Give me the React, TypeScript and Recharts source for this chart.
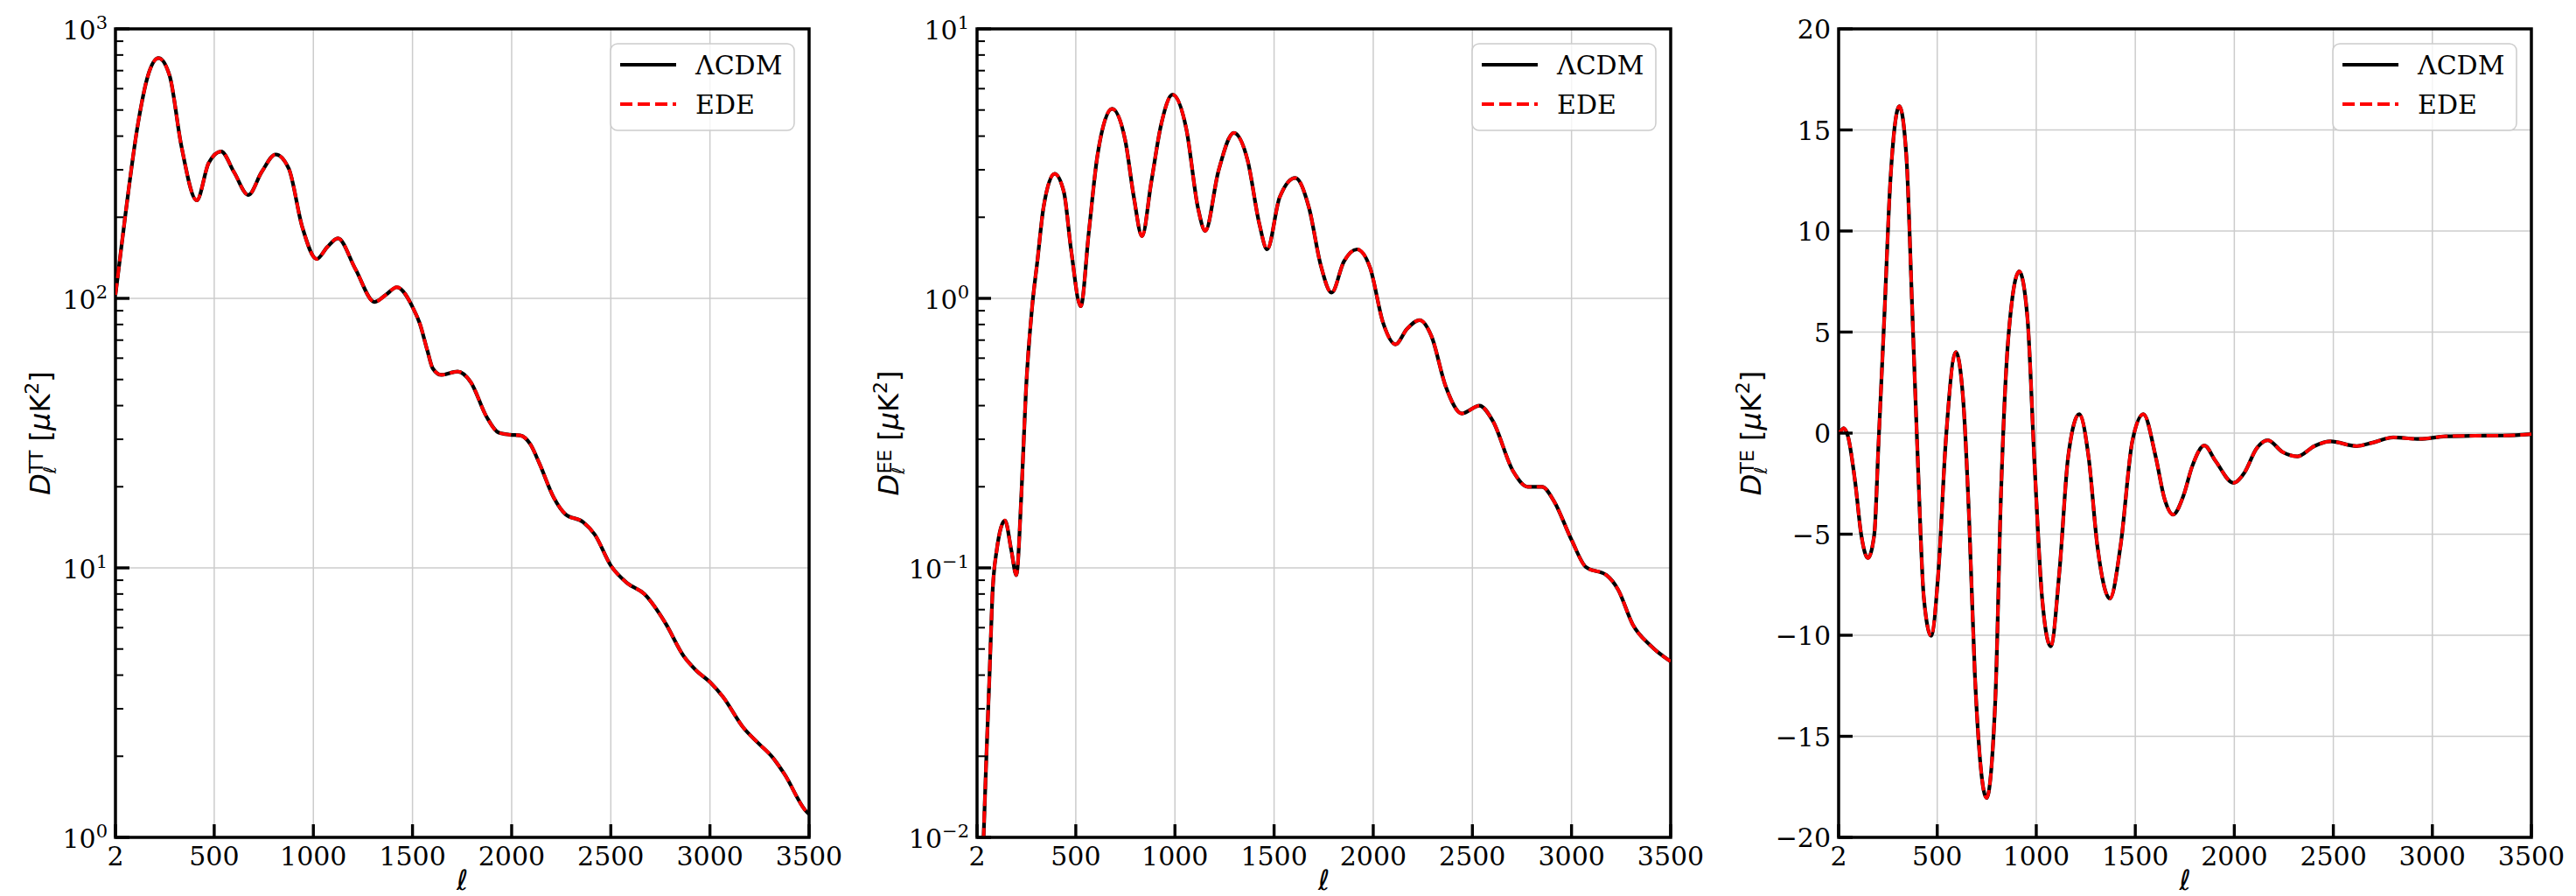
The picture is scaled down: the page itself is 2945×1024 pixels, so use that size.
import React from "react";
import { LineChart, Line, XAxis, YAxis, CartesianGrid, ReferenceArea } from "recharts";

// multipoles shared by all three panels
const ellTicks = [2, 500, 1000, 1500, 2000, 2500, 3000, 3500];
const ellGrid = [500, 1000, 1500, 2000, 2500, 3000];

// TT spectrum
const ttEll = [2, 28, 48, 117, 166, 219, 275, 334, 412, 472, 535, 600, 672, 740, 810, 876, 944, 1017, 1070, 1124, 1211, 1309, 1365, 1421, 1506, 1536, 1575, 1602, 1646, 1727, 1793, 1874, 1933, 1992, 2043, 2095, 2139, 2213, 2272, 2360, 2419, 2500, 2581, 2669, 2772, 2868, 2934, 3000, 3066, 3169, 3243, 3316, 3375, 3485, 3500];
const ttLcdm = [103, 147, 193, 451, 671, 779, 671, 369, 231, 318, 351, 294, 242, 295, 342, 303, 184, 140, 155, 167, 129, 97, 103, 110, 91, 81, 64, 55, 52, 53.5, 49, 36.3, 31.8, 31.2, 31.0, 28.7, 24.5, 18.2, 15.8, 14.8, 13.3, 10.2, 8.8, 8.0, 6.3, 4.7, 4.14, 3.77, 3.32, 2.55, 2.24, 1.98, 1.72, 1.25, 1.22];
// EDE lies on top of LCDM at this resolution
const ttEde = [...ttLcdm];
const ttDecades = [1, 10, 100, 1000];

// EE spectrum
const eeEll = [2, 20, 35, 50, 65, 79, 101, 143, 175, 200, 226, 249, 278, 307, 337, 393, 440, 476, 525, 565, 609, 683, 749, 793, 834, 881, 930, 988, 1058, 1116, 1153, 1219, 1297, 1367, 1425, 1465, 1528, 1607, 1676, 1735, 1790, 1852, 1918, 1984, 2050, 2112, 2170, 2234, 2293, 2366, 2447, 2536, 2602, 2706, 2779, 2852, 2911, 3000, 3073, 3176, 3235, 3308, 3397, 3492, 3500];
const eeLcdm = [0.0015, 0.004, 0.0100, 0.0207, 0.0402, 0.078, 0.116, 0.150, 0.116, 0.094, 0.190, 0.46, 0.90, 1.39, 2.17, 2.90, 2.48, 1.52, 0.935, 1.74, 3.38, 5.05, 3.87, 2.37, 1.70, 2.71, 4.4, 5.70, 4.23, 2.17, 1.78, 2.96, 4.11, 3.24, 1.90, 1.52, 2.37, 2.80, 2.17, 1.33, 1.05, 1.37, 1.52, 1.30, 0.81, 0.675, 0.77, 0.83, 0.726, 0.47, 0.374, 0.40, 0.352, 0.228, 0.200, 0.200, 0.177, 0.127, 0.1006, 0.094, 0.083, 0.0618, 0.0516, 0.0454, 0.0450];
const eeEde = [...eeLcdm];
const eeDecades = [0.01, 0.1, 1, 10];

// TE spectrum
const teEll = [2, 13, 27, 49, 86, 116, 150, 182, 204, 234, 263, 309, 344, 374, 403, 432, 469, 506, 543, 594, 631, 661, 690, 749, 793, 822, 859, 914, 955, 992, 1029, 1073, 1117, 1161, 1217, 1264, 1308, 1372, 1426, 1485, 1541, 1603, 1647, 1691, 1743, 1787, 1849, 1904, 1996, 2052, 2111, 2169, 2243, 2319, 2405, 2486, 2618, 2699, 2803, 2935, 3067, 3215, 3362, 3487, 3500];
const teLcdm = [0.0, 0.1, 0.24, -0.15, -2.46, -5.02, -6.18, -5.02, -0.40, 6.02, 12.44, 16.17, 13.72, 6.02, -1.68, -8.11, -10.03, -6.83, -0.40, 4.01, 1.65, -4.26, -11.96, -18.05, -13.24, -2.97, 4.73, 8.00, 5.76, -1.68, -8.11, -10.55, -6.83, -1.17, 0.94, -1.17, -5.54, -8.19, -5.54, -0.40, 0.94, -1.17, -3.23, -4.03, -3.10, -1.65, -0.61, -1.36, -2.46, -1.94, -0.78, -0.35, -0.93, -1.15, -0.64, -0.41, -0.64, -0.47, -0.21, -0.29, -0.16, -0.13, -0.12, -0.06, -0.05];
const teEde = [...teLcdm];
const teTicks = [-20, -15, -10, -5, 0, 5, 10, 15, 20];

const minorMult = [2, 3, 4, 5, 6, 7, 8, 9];

const SERIF = '"DejaVu Serif", serif';
const SANS = '"DejaVu Sans", sans-serif';
const FIG_H = 1024;
const AXIS_W = 40; // space reserved by each axis; the labels spill into the margin

const logTicks = (decades: number[]) =>
    decades.flatMap((d, i) => (i === decades.length - 1 ? [d] : [d, ...minorMult.map((m) => m * d)]));

const XTick = (props: any) => {
    const { x, y, payload } = props;
    return (
        <g>
            <line x1={x} x2={x} y1={y} y2={y - 15} stroke="#000" strokeWidth={3.4} />
            <text x={x} y={y + 32} textAnchor="middle" fontFamily={SERIF} fontSize={30} fill="#000">
                {payload.value}
            </text>
        </g>
    );
};

const makeLogTick = (decades: number[]) => (props: any) => {
    const { x, y, payload } = props;
    const v = payload.value;
    const major = decades.includes(v);
    const exp = Math.round(Math.log10(v));
    return (
        <g>
            <line x1={x} x2={x + (major ? 16 : 9)} y1={y} y2={y} stroke="#000" strokeWidth={major ? 3.4 : 2} />
            {major && (
                <text x={x - 9} y={y + 12} textAnchor="end" fontFamily={SERIF} fontSize={30} fill="#000">
                    10
                    <tspan dy={-12} fontSize={21}>
                        {exp < 0 ? `\u2212${-exp}` : String(exp)}
                    </tspan>
                </text>
            )}
        </g>
    );
};

const LinTick = (props: any) => {
    const { x, y, payload } = props;
    const v = payload.value;
    return (
        <g>
            <line x1={x} x2={x + 16} y1={y} y2={y} stroke="#000" strokeWidth={3.4} />
            <text x={x - 9} y={y + 11} textAnchor="end" fontFamily={SERIF} fontSize={30} fill="#000">
                {v < 0 ? `\u2212${-v}` : String(v)}
            </text>
        </g>
    );
};

interface PanelProps {
    left: number;
    width: number;
    plotLeft: number;
    plotRight: number;
    data: { ell: number; lcdm: number; ede: number }[];
    scale: "log" | "linear";
    domain: [number, number];
    ticks: number[];
    gridY: number[];
    tick: any;
    sup: string;
    labelOffset: number;
}

const PLOT_TOP = 33;
const PLOT_BOTTOM = 957;

function Panel({ left, width, plotLeft, plotRight, data, scale, domain, ticks, gridY, tick, sup, labelOffset }: PanelProps) {
    const margin = {
        top: PLOT_TOP,
        right: width - plotRight,
        bottom: FIG_H - PLOT_BOTTOM - AXIS_W,
        left: plotLeft - AXIS_W,
    };
    const cy = (PLOT_TOP + PLOT_BOTTOM) / 2;
    const lx = plotRight - 227;
    const ly = PLOT_TOP + 17;

    return (
        <div style={{ position: "absolute", left, top: 0, width, height: FIG_H }}>
            <LineChart width={width} height={FIG_H} data={data} margin={margin}>
                <CartesianGrid stroke="#cccccc" strokeWidth={1.5} horizontalValues={gridY} verticalValues={ellGrid} />
                <XAxis
                    dataKey="ell"
                    type="number"
                    domain={[2, 3500]}
                    ticks={ellTicks}
                    interval={0}
                    tick={XTick}
                    tickSize={0}
                    tickMargin={0}
                    tickLine={false}
                    axisLine={false}
                    height={AXIS_W}
                    allowDataOverflow
                />
                <YAxis
                    type="number"
                    scale={scale}
                    domain={domain}
                    ticks={ticks}
                    interval={0}
                    tick={tick}
                    tickSize={0}
                    tickMargin={0}
                    tickLine={false}
                    axisLine={false}
                    width={AXIS_W}
                    allowDataOverflow
                />
                <Line type="monotone" dataKey="lcdm" stroke="#000" strokeWidth={4.2} dot={false} isAnimationActive={false} />
                <Line
                    type="monotone"
                    dataKey="ede"
                    stroke="#ff0000"
                    strokeWidth={3.8}
                    strokeDasharray="13.5 5.8"
                    dot={false}
                    isAnimationActive={false}
                />
                <ReferenceArea
                    x1={2}
                    x2={3500}
                    y1={domain[0]}
                    y2={domain[1]}
                    fill="none"
                    stroke="#000"
                    strokeWidth={3.5}
                    ifOverflow="visible"
                />
            </LineChart>
            <svg
                width={width}
                height={FIG_H}
                style={{ position: "absolute", left: 0, top: 0, pointerEvents: "none" }}
            >
                <g transform={`translate(${plotLeft - labelOffset},${cy}) rotate(-90)`}>
                    <text x={0} y={0} textAnchor="middle" fontFamily={SANS} fontSize={32} fill="#000">
                        <tspan fontStyle="italic">D</tspan>
                        <tspan fontSize={20} fontStyle="italic" dy={7}>
                            ℓ
                        </tspan>
                        <tspan fontSize={22} dx={-8} dy={-15}>
                            {sup}
                        </tspan>
                        <tspan dx={10} dy={8}>
                            [
                        </tspan>
                        <tspan fontStyle="italic">μ</tspan>
                        <tspan>K</tspan>
                        <tspan fontSize={22} dy={-13}>
                            2
                        </tspan>
                        <tspan dy={13}>]</tspan>
                    </text>
                </g>
                <text
                    x={(plotLeft + plotRight) / 2}
                    y={PLOT_BOTTOM + 60}
                    textAnchor="middle"
                    fontFamily={SANS}
                    fontStyle="italic"
                    fontSize={32}
                    fill="#000"
                >
                    ℓ
                </text>
                <rect x={lx} y={ly} width={210} height={99} rx={8} fill="#fff" fillOpacity={0.8} stroke="#cccccc" strokeWidth={1.5} />
                <line x1={lx + 11} x2={lx + 75} y1={ly + 24} y2={ly + 24} stroke="#000" strokeWidth={4} />
                <text x={lx + 97} y={ly + 35} fontFamily={SERIF} fontSize={30} fill="#000">
                    ΛCDM
                </text>
                <line
                    x1={lx + 11}
                    x2={lx + 75}
                    y1={ly + 69}
                    y2={ly + 69}
                    stroke="#ff0000"
                    strokeWidth={3.8}
                    strokeDasharray="14 6"
                />
                <text x={lx + 97} y={ly + 80} fontFamily={SERIF} fontSize={30} fill="#000">
                    EDE
                </text>
            </svg>
        </div>
    );
}

const zip = (ell: number[], a: number[], b: number[]) => ell.map((l, i) => ({ ell: l, lcdm: a[i], ede: b[i] }));

export default function App() {
    const ttData = zip(ttEll, ttLcdm, ttEde);
    const eeData = zip(eeEll, eeLcdm, eeEde);
    const teData = zip(teEll, teLcdm, teEde);

    return (
        <div style={{ position: "relative", width: 2945, height: FIG_H, background: "#fff", overflow: "hidden" }}>
            <style>{`body{margin:0}`}</style>
            <Panel
                left={0}
                width={1000}
                plotLeft={132}
                plotRight={925}
                data={ttData}
                scale="log"
                domain={[1, 1000]}
                ticks={logTicks(ttDecades)}
                gridY={ttDecades}
                tick={makeLogTick(ttDecades)}
                sup="TT"
                labelOffset={75}
            />
            <Panel
                left={960}
                width={1000}
                plotLeft={157}
                plotRight={950}
                data={eeData}
                scale="log"
                domain={[0.01, 10]}
                ticks={logTicks(eeDecades)}
                gridY={eeDecades}
                tick={makeLogTick(eeDecades)}
                sup="EE"
                labelOffset={90}
            />
            <Panel
                left={1940}
                width={1005}
                plotLeft={162}
                plotRight={954}
                data={teData}
                scale="linear"
                domain={[-20, 20]}
                ticks={teTicks}
                gridY={teTicks}
                tick={LinTick}
                sup="TE"
                labelOffset={89}
            />
        </div>
    );
}
